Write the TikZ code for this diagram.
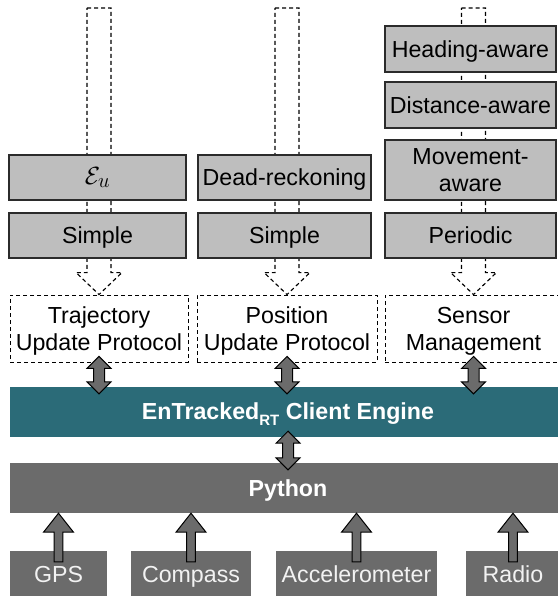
\documentclass[tikz,border=0pt]{standalone}
\usepackage{fontspec}
\setmainfont{Liberation Sans}
\usetikzlibrary{calc}

\definecolor{boxgray}{HTML}{BEBEBE}
\definecolor{edgegray}{HTML}{2B2B2B}
\definecolor{engineteal}{HTML}{2B6B78}
\definecolor{darkgray}{HTML}{6B6B6B}
\definecolor{softwhite}{HTML}{F2F2F2}

% invisible strut, symmetric about mid cap height, taller than any glyph
\newcommand{\capstrut}{\rule[-5pt]{0pt}{26.5pt}}

\tikzset{
  txt/.style={font=\fontsize{23.2}{27}\selectfont, align=center, inner sep=0pt},
  stagebox/.style={txt, draw=edgegray, line width=1.1pt, fill=boxgray},
  protobox/.style={txt, draw=black, dashed, dash pattern=on 4pt off 3pt, line width=0.9pt, fill=white},
  barbox/.style={txt, font=\fontsize{23.2}{27}\selectfont\bfseries, text=white},
  sensorbox/.style={txt, fill=darkgray, text=softwhite},
  hollowarrow/.style={draw=black, dashed, dash pattern=on 4pt off 3pt, line width=1.1pt, fill=white},
  fatarrow/.style={draw=black, line width=1pt, fill=darkgray, line join=miter},
}

% hollow dashed arrow from a free top point down to the tip on a node
\newcommand{\hollowdown}[2]{%
  \path[hollowarrow] let \p1=(#1), \p2=(#2) in
    (\x2-12pt,\y1) -- (\x2+12pt,\y1) -- (\x2+12pt,\y2+22pt) -- (\x2+23pt,\y2+22pt)
    -- (\x2,\y2) -- (\x2-23pt,\y2+22pt) -- (\x2-12pt,\y2+22pt) -- cycle;}

% thick two-headed arrow between an upper and a lower node
\newcommand{\fatbi}[2]{%
  \path[fatarrow] let \p1=(#1), \p2=(#2) in
    (\x1,\y1+6pt) -- (\x1+12pt,\y1-6pt) -- (\x1+5.5pt,\y1-6pt) -- (\x1+5.5pt,\y2+5pt)
    -- (\x1+12pt,\y2+5pt) -- (\x1,\y2-7pt) -- (\x1-12pt,\y2+5pt) -- (\x1-5.5pt,\y2+5pt)
    -- (\x1-5.5pt,\y1-6pt) -- (\x1-12pt,\y1-6pt) -- cycle;}

% thick upward arrow from a sensor into the Python layer
\newcommand{\fatup}[2]{%
  \path[fatarrow] let \p1=(#1), \p2=(#2) in
    (\x1,\y2) -- (\x1+15pt,\y2-19pt) -- (\x1+4.3pt,\y2-19pt) -- (\x1+4.3pt,\y1-11pt)
    -- (\x1-4.3pt,\y1-11pt) -- (\x1-4.3pt,\y2-19pt) -- (\x1-15pt,\y2-19pt) -- cycle;}

\begin{document}
\begin{tikzpicture}[x=1pt, y=-1pt]
\useasboundingbox (0,0) rectangle (557,596);

% protocol layer (dashed boxes)
\node[protobox, minimum width=178pt, minimum height=67pt] (traj) at (99,328.5) {\capstrut Trajectory\\\capstrut Update Protocol};
\node[protobox, minimum width=180pt, minimum height=67pt] (pos) at (287,328.5) {\capstrut Position\\\capstrut Update Protocol};
\node[protobox, minimum width=177pt, minimum height=67pt] (sens) at (473.5,328.5) {\capstrut Sensor\\\capstrut Management};

% free upper ends of the hollow arrows
\coordinate (topA) at (98,8);
\coordinate (topB) at (286.5,8);
\coordinate (topC) at (473,8);

\hollowdown{topA}{traj.north}
\hollowdown{topB}{pos.north}
\hollowdown{topC}{sens.north}

% strategy boxes
\node[stagebox, minimum width=177pt, minimum height=45pt, font=\fontsize{30}{32}\selectfont] (eu) at (97.5,177.5) {$\mathcal{E}_u$};
\node[stagebox, minimum width=177pt, minimum height=45pt] (simpleA) at (97.5,235.5) {\capstrut Simple};

\node[stagebox, minimum width=173pt, minimum height=45pt] (dead) at (284.5,177.5) {\capstrut Dead-reckoning};
\node[stagebox, minimum width=173pt, minimum height=45pt] (simpleB) at (284.5,235.5) {\capstrut Simple};

\node[stagebox, minimum width=171pt, minimum height=46pt] (heading) at (470.5,49) {\capstrut Heading-aware};
\node[stagebox, minimum width=171pt, minimum height=46pt] (distance) at (470.5,105) {\capstrut Distance-aware};
\node[stagebox, minimum width=171pt, minimum height=60pt] (movement) at (470.5,170) {\capstrut Movement-\\\capstrut aware};
\node[stagebox, minimum width=171pt, minimum height=45pt] (periodic) at (470.5,235.5) {\capstrut Periodic};

% engine and runtime bars
\node[barbox, fill=engineteal, minimum width=556pt, minimum height=50pt] (engine) at (288,412)
  {\capstrut EnTracked\raisebox{-0.45ex}{\fontsize{15}{15}\selectfont RT} Client Engine};
\node[barbox, fill=darkgray, minimum width=556pt, minimum height=50pt] (python) at (288,488) {\capstrut Python};

% sensors
\node[sensorbox, minimum width=97pt, minimum height=46pt] (gps) at (58.5,574) {\capstrut GPS};
\node[sensorbox, minimum width=120pt, minimum height=46pt] (compass) at (191,574) {\capstrut Compass};
\node[sensorbox, minimum width=161pt, minimum height=46pt] (accel) at (356.5,574) {\capstrut Accelerometer};
\node[sensorbox, minimum width=94pt, minimum height=46pt] (radio) at (513,574) {\capstrut Radio};

% connectors
\fatbi{traj.south}{engine.north}
\fatbi{pos.south}{engine.north}
\fatbi{sens.south}{engine.north}
\fatbi{engine.south}{python.north}

\fatup{gps.north}{python.south}
\fatup{compass.north}{python.south}
\fatup{accel.north}{python.south}
\fatup{radio.north}{python.south}
\end{tikzpicture}
\end{document}
